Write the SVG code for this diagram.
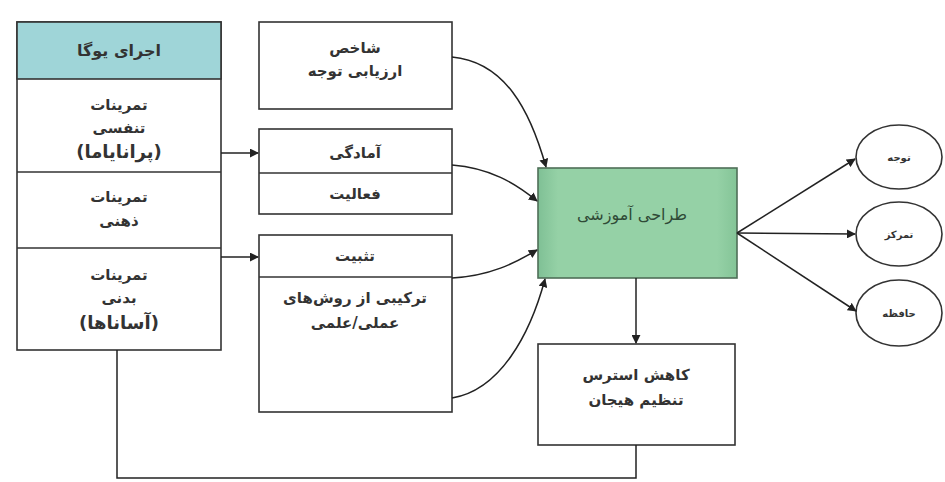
<svg xmlns="http://www.w3.org/2000/svg" width="945" height="482" viewBox="0 0 945 482">
<defs>
<marker id="ah" viewBox="0 0 10 10" refX="9" refY="5" markerWidth="9" markerHeight="9" markerUnits="userSpaceOnUse" orient="auto">
<path d="M0,0 L10,5 L0,10 z" fill="#222"/>
</marker>
<linearGradient id="gr" x1="0" y1="0" x2="1" y2="0">
<stop offset="0" stop-color="#7fc095"/>
<stop offset="0.1" stop-color="#95d1a6"/>
<stop offset="0.9" stop-color="#95d1a6"/>
<stop offset="1" stop-color="#84c497"/>
</linearGradient>
</defs>
<style>
.box{fill:#ffffff;stroke:#333;stroke-width:1.6}
.t{font-family:"DejaVu Sans",sans-serif;font-size:15px;font-weight:bold;fill:#333;text-anchor:middle}
.tb{font-size:18px}
.ts{font-size:10px}
.ln{fill:none;stroke:#222;stroke-width:1.5}
</style>
<rect width="945" height="482" fill="#ffffff"/>

<g id="yoga">
<rect class="box" x="17" y="22" width="204" height="328"/>
<rect x="17" y="22" width="204" height="57" fill="#9fd5d8" stroke="#333" stroke-width="1.6"/>
<line x1="17" y1="172" x2="221" y2="172" stroke="#333" stroke-width="1.6"/>
<line x1="17" y1="248" x2="221" y2="248" stroke="#333" stroke-width="1.6"/>
<text class="t" x="119" y="56" style="font-size:16px">اجرای یوگا</text>
<text class="t" x="119" y="110">تمرینات</text>
<text class="t" x="119" y="133">تنفسی</text>
<text class="t tb" x="119" y="158">(پرانایاما)</text>
<text class="t" x="119" y="202">تمرینات</text>
<text class="t" x="119" y="226">ذهنی</text>
<text class="t" x="119" y="280">تمرینات</text>
<text class="t" x="119" y="303">بدنی</text>
<text class="t tb" x="119" y="329">(آساناها)</text>
</g>

<g id="shakhes">
<rect class="box" x="259" y="22" width="193" height="87"/>
<text class="t" x="355" y="53">شاخص</text>
<text class="t" x="355" y="76">ارزیابی توجه</text>
</g>

<g id="amadegi">
<rect class="box" x="259" y="129" width="193" height="85"/>
<line x1="259" y1="173" x2="452" y2="173" stroke="#333" stroke-width="1.6"/>
<text class="t" x="355" y="158">آمادگی</text>
<text class="t" x="355" y="199">فعالیت</text>
</g>

<g id="tasbit">
<rect class="box" x="259" y="235" width="193" height="177"/>
<line x1="259" y1="277" x2="452" y2="277" stroke="#333" stroke-width="1.6"/>
<text class="t" x="355" y="261">تثبیت</text>
<text class="t" x="355" y="303">ترکیبی از روش‌های</text>
<text class="t" x="355" y="328">عملی/علمی</text>
</g>

<g id="design">
<rect x="538" y="168" width="199" height="110" fill="url(#gr)" stroke="#4f6f58" stroke-width="1.6"/>
<text class="t" x="632" y="220" style="font-weight:normal;fill:#2f4a36;font-size:16px">طراحی آموزشی</text>
</g>

<g id="stress">
<rect class="box" x="538" y="344" width="197" height="101"/>
<text class="t" x="636" y="380">کاهش استرس</text>
<text class="t" x="636" y="405">تنظیم هیجان</text>
</g>

<g id="tavajoh">
<ellipse cx="899" cy="157" rx="43" ry="32" fill="#fff" stroke="#333" stroke-width="1.6"/>
<text class="t ts" x="899" y="161">توجه</text>
</g>
<g id="tamarkoz">
<ellipse cx="899" cy="234" rx="43" ry="32" fill="#fff" stroke="#333" stroke-width="1.6"/>
<text class="t ts" x="899" y="238">تمرکز</text>
</g>
<g id="hafeze">
<ellipse cx="899" cy="313" rx="43" ry="33" fill="#fff" stroke="#333" stroke-width="1.6"/>
<text class="t ts" x="899" y="317">حافظه</text>
</g>

<g id="connectors">
<line class="ln" x1="221" y1="153" x2="258" y2="153" marker-end="url(#ah)"/>
<line class="ln" x1="221" y1="257" x2="258" y2="257" marker-end="url(#ah)"/>
<path class="ln" d="M452,57 C505,62 530,110 546,167" marker-end="url(#ah)"/>
<path class="ln" d="M452,165 C490,168 515,183 537,201" marker-end="url(#ah)"/>
<path class="ln" d="M452,278 C490,276 515,263 537,250" marker-end="url(#ah)"/>
<path class="ln" d="M452,398 C500,390 530,335 545,279" marker-end="url(#ah)"/>
<line class="ln" x1="636" y1="278" x2="636" y2="343" marker-end="url(#ah)"/>
<line class="ln" x1="737" y1="233" x2="855" y2="159" marker-end="url(#ah)"/>
<line class="ln" x1="737" y1="233" x2="855" y2="234" marker-end="url(#ah)"/>
<line class="ln" x1="737" y1="233" x2="856" y2="311" marker-end="url(#ah)"/>
<path class="ln" d="M117,350 V478 H636 V445"/>
</g>
</svg>
